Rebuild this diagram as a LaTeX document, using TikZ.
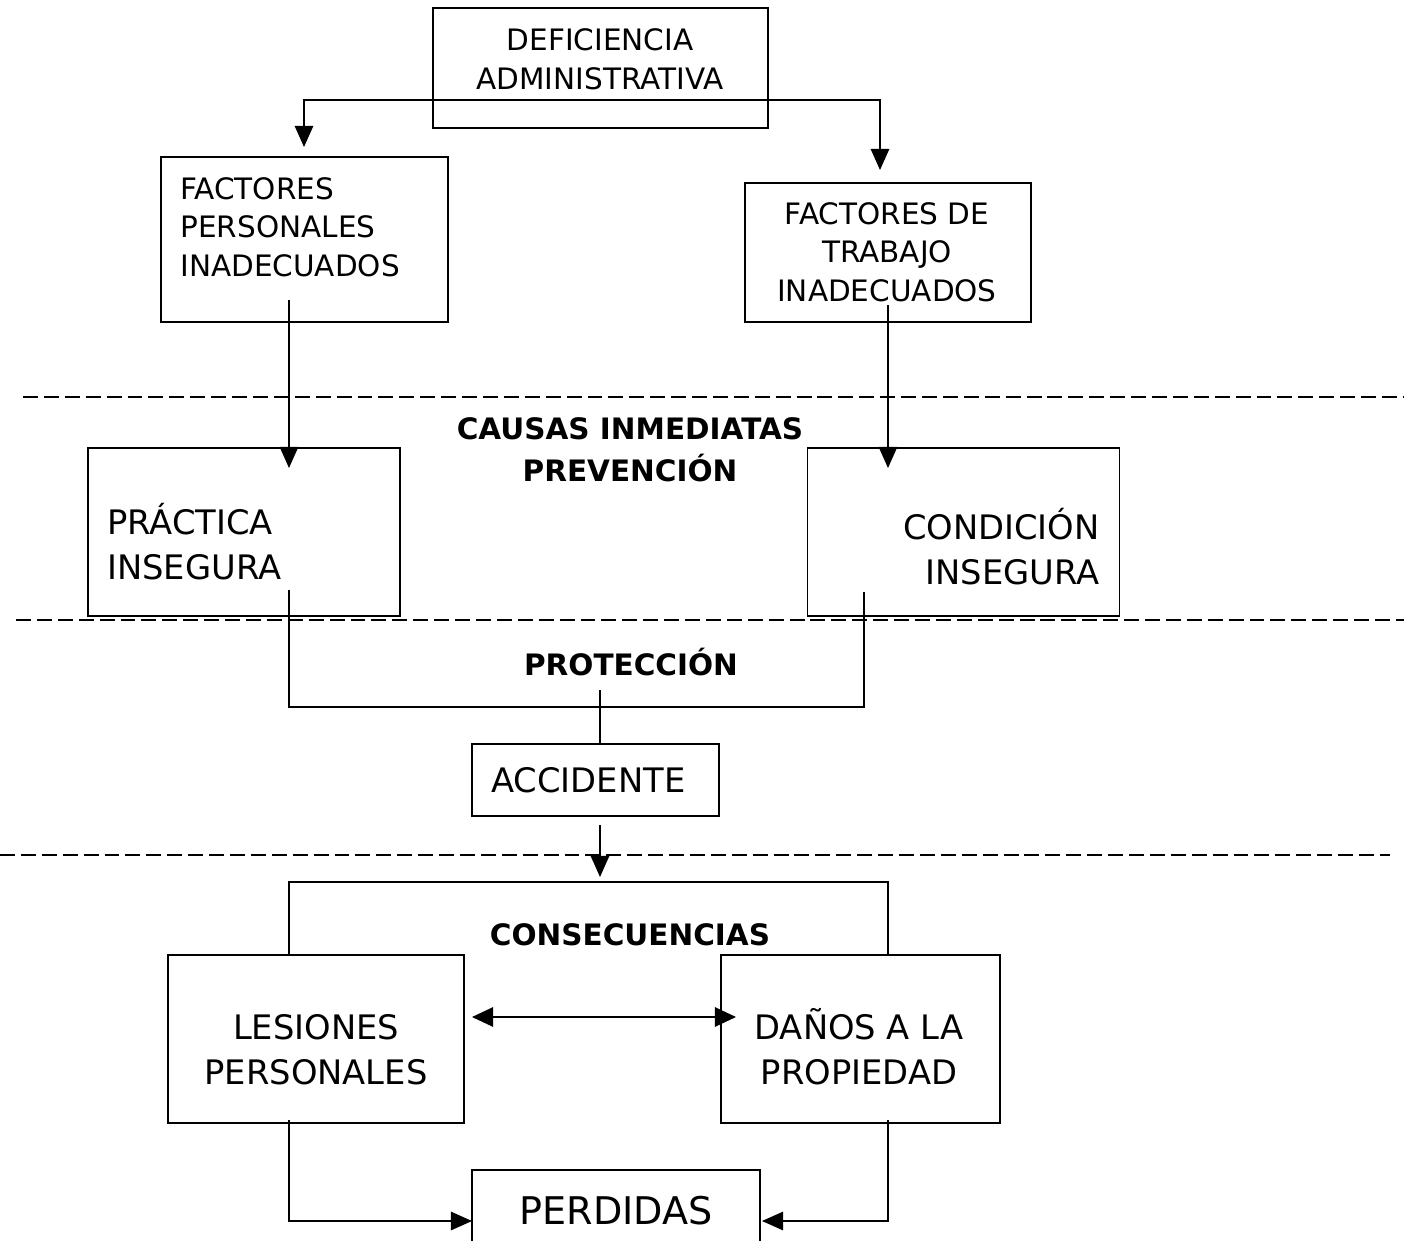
\documentclass[tikz,border=0pt]{standalone}
\usepackage{fontspec}
\setmainfont{DejaVu Sans}
\usetikzlibrary{arrows.meta}
\tikzset{
  caja/.style 2 args={draw,line width=1.1pt,inner sep=0pt,minimum width=#1*0.02cm,minimum height=#2*0.02cm},
  chico/.style={inner sep=0pt,font=\fontsize{16.8}{21.8}\selectfont},
  grande/.style={inner sep=0pt,font=\fontsize{19.2}{25.3}\selectfont},
  titulo/.style={inner sep=0pt,align=center,font=\bfseries\fontsize{16.8}{23.5}\selectfont},
  linea/.style={line width=0.85pt},
  flecha/.style={linea,-{Triangle[length=12pt,width=10.5pt]}},
  doble/.style={line width=1.1pt,{Triangle[length=12pt,width=11pt]}-{Triangle[length=12pt,width=11pt]}},
  corte/.style={line width=1.6pt,dash pattern=on 8.5pt off 3.4pt}
}
\begin{document}
\begin{tikzpicture}[x=0.02cm,y=-0.02cm]
  \useasboundingbox (0,0) rectangle (1404,1241);
  % franjas
  \draw[corte] (23,397)--(1404,397);
  \draw[corte] (16,620)--(1404,620);
  \draw[corte] (0,855)--(1390,855);
  % cajas
  \node[caja={335}{120}] (def) at (600.5,68) {};
  \node[caja={287}{165}] (fp) at (304.5,239.5) {};
  \node[caja={286}{139}] (ft) at (888,252.5) {};
  \node[caja={312}{168}] (pi) at (244,532) {};
  \node[caja={312}{168}] (ci) at (963.5,532) {};
  \node[caja={247}{72}] (acc) at (595.5,780) {};
  \node[caja={296}{168}] (lp) at (316,1039) {};
  \node[caja={279}{168}] (dp) at (860.5,1039) {};
  \node[caja={288}{100}] (per) at (616,1220) {};
  % textos
  \node[chico,align=center,anchor=south] (defT) at (600,90) {DEFICIENCIA\\ADMINISTRATIVA};
  \node[chico,align=left,anchor=south west] (fpT) at (180,277) {FACTORES\\PERSONALES\\INADECUADOS};
  \node[chico,align=center,anchor=south] (ftT) at (887,302) {FACTORES DE\\TRABAJO\\INADECUADOS};
  \node[grande,align=left,anchor=south west] (piT) at (107,580) {PRÁCTICA\\INSEGURA};
  \node[grande,align=right,anchor=south east] (ciT) at (1100,585) {CONDICIÓN\\INSEGURA};
  \node[grande,anchor=base west] (accT) at (491,792) {ACCIDENTE};
  \node[grande,align=center,anchor=south] (lpT) at (316,1085) {LESIONES\\PERSONALES};
  \node[grande,align=center,anchor=south] (dpT) at (859,1085) {DAÑOS A LA\\PROPIEDAD};
  \node[inner sep=0pt,font=\fontsize{21.7}{26}\selectfont,anchor=base] (perT) at (616,1224) {PERDIDAS};
  \node[titulo,anchor=south] (prev) at (630,482) {CAUSAS INMEDIATAS\\PREVENCIÓN};
  \node[titulo,anchor=base] (prot) at (631,675) {PROTECCIÓN};
  \node[titulo,anchor=base] (cons) at (630,945) {CONSECUENCIAS};
  % puntos de paso
  \coordinate (defOut) at (600,100);
  \coordinate (fpIn) at (304,147);
  \coordinate (ftIn) at (880,170);
  \coordinate (fpOut) at (289,300);
  \coordinate (piIn) at (289,468);
  \coordinate (ftOut) at (888,305);
  \coordinate (ciIn) at (888,468);
  \coordinate (piOut) at (289,590);
  \coordinate (ciOut) at (864,592);
  \coordinate (protC) at (600,707);
  \coordinate (protTop) at (600,690);
  \coordinate (accOut) at (600,825);
  \coordinate (conTop) at (600,877);
  \coordinate (conBar) at (600,882);
  \coordinate (lpR) at (472,1017);
  \coordinate (dpL) at (736,1017);
  \coordinate (lpOut) at (289,1120);
  \coordinate (dpOut) at (888,1120);
  \coordinate (perL) at (472,1221);
  \coordinate (perR) at (762,1221);
  % conectores
  \draw[flecha] (defOut) -| (fpIn);
  \draw[flecha] (defOut) -| (ftIn);
  \draw[flecha] (fpOut) -- (piIn);
  \draw[flecha] (ftOut) -- (ciIn);
  \draw[linea] (piOut) |- (protC) -| (ciOut);
  \draw[linea] (protTop) -- (protTop |- acc.north);
  \draw[flecha] (accOut) -- (conTop);
  \draw[linea] (fpOut |- lp.north) |- (conBar) -| (ftOut |- dp.north);
  \draw[doble] (lpR) -- (dpL);
  \draw[flecha] (lpOut) |- (perL);
  \draw[flecha] (dpOut) |- (perR);
\end{tikzpicture}
\end{document}
